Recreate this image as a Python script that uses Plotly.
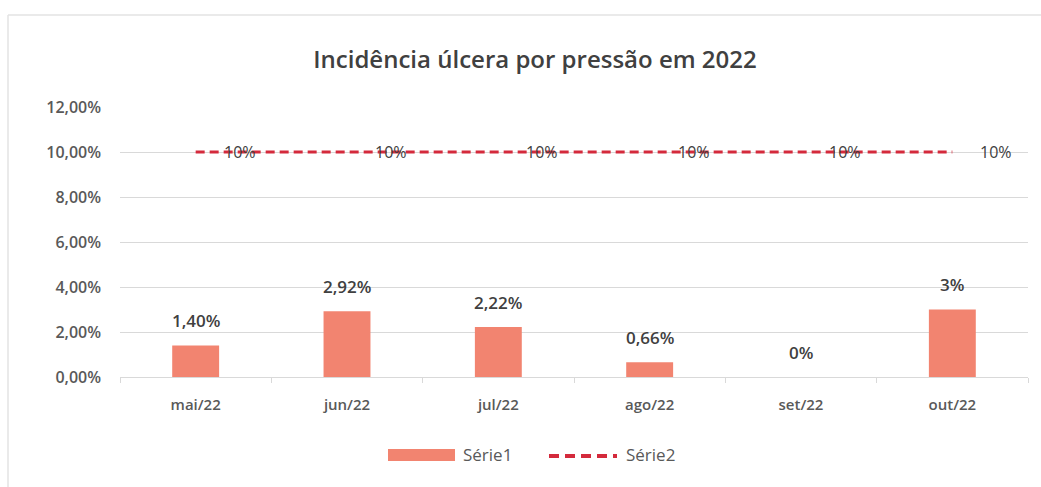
import plotly.graph_objects as go

# Monthly pressure ulcer incidence (Série1) and target line (Série2)
months = ["mai/22", "jun/22", "jul/22", "ago/22", "set/22", "out/22"]
incidence = [0.014, 0.0292, 0.0222, 0.0066, 0.0, 0.03]
incidence_decimals = [2, 2, 2, 2, 0, 0]
target = [0.10, 0.10, 0.10, 0.10, 0.10, 0.10]
target_decimals = [0, 0, 0, 0, 0, 0]
y_ticks = [0, 0.02, 0.04, 0.06, 0.08, 0.10, 0.12]
series_names = ["Série1", "Série2"]

W, H = 1041, 487
L, R, T, B = 120, 13, 107, 110
PW, PH = W - L - R, H - T - B

BAR = "#F28470"
LINE = "#D42A3C"
TXT = "#595959"
GRID = "#D9D9D9"
FONT = "Open Sans, Liberation Sans, sans-serif"


def pct(v, d):
    return f"{v * 100:.{d}f}%".replace(".", ",")


def px(x):
    return (x - L) / PW


def py(y):
    return (H - B - y) / PH


fig = go.Figure()
fig.add_trace(go.Bar(
    x=months, y=incidence, name=series_names[0],
    marker=dict(color=BAR, line=dict(width=0)),
    width=0.31, showlegend=False,
))
fig.add_trace(go.Scatter(
    x=months, y=target, name=series_names[1], mode="lines",
    line=dict(color=LINE, width=3, dash="9px,5px"), showlegend=False,
))

annotations = []
for m, v, d in zip(months, incidence, incidence_decimals):
    annotations.append(dict(
        x=m, y=v, xref="x", yref="y", text=pct(v, d), showarrow=False,
        yshift=25, font=dict(family=FONT, size=17, color="#404040", weight=600),
    ))
for m, v, d in zip(months, target, target_decimals):
    annotations.append(dict(
        x=m, y=v, xref="x", yref="y", text=pct(v, d), showarrow=False,
        xshift=44, font=dict(family=FONT, size=16, color="#404040"),
    ))

# legend entries drawn as wide swatches
legend_font = dict(family=FONT, size=17, color=TXT)
annotations.append(dict(xref="paper", yref="paper", x=px(461), y=py(455), xanchor="left",
                        yanchor="middle", text=series_names[0], showarrow=False, font=legend_font))
annotations.append(dict(xref="paper", yref="paper", x=px(624), y=py(455), xanchor="left",
                        yanchor="middle", text=series_names[1], showarrow=False, font=legend_font))

shapes = [
    dict(type="line", xref="paper", yref="paper",
         x0=px(8), x1=1.2, y0=py(15), y1=py(15),
         line=dict(color="#E3E3E3", width=1.5)),
    dict(type="line", xref="paper", yref="paper",
         x0=px(8), x1=px(8), y0=-0.5, y1=py(15),
         line=dict(color="#E3E3E3", width=1.5)),
    dict(type="rect", xref="paper", yref="paper",
         x0=px(388), x1=px(455), y0=py(461), y1=py(449),
         fillcolor=BAR, line=dict(width=0)),
    dict(type="line", xref="paper", yref="paper",
         x0=px(549), x1=px(617), y0=py(456), y1=py(456),
         line=dict(color=LINE, width=4, dash="10px,6px")),
]

fig.update_layout(
    width=W, height=H,
    margin=dict(l=L, r=R, t=T, b=B),
    paper_bgcolor="white", plot_bgcolor="white",
    separators=", ",
    title=dict(
        text="Incidência úlcera por pressão em 2022",
        x=535 / W, xanchor="center",
        y=1 - 60 / H, yanchor="middle",
        font=dict(family=FONT, size=24, color="#404040", weight=600),
    ),
    font=dict(family=FONT, color=TXT),
    bargap=0.69,
    showlegend=False,
    annotations=annotations,
    shapes=shapes,
)

fig.update_xaxes(
    type="category", range=[-0.5, 5.5],
    showgrid=False, showline=True, linecolor=GRID, linewidth=1,
    ticks="outside", tickson="boundaries", ticklen=5, tickcolor=GRID,
    ticklabelstandoff=14,
    tickfont=dict(family=FONT, size=15, color=TXT, weight=600),
)
fig.update_yaxes(
    range=[0, 0.12], tickvals=y_ticks, tickformat=".2%",
    showgrid=True, gridcolor=GRID, gridwidth=1, zeroline=False,
    showline=False, ticks="", ticklabelstandoff=18,
    tickfont=dict(family=FONT, size=16, color=TXT, weight=600),
)

fig.write_html("out.html")
